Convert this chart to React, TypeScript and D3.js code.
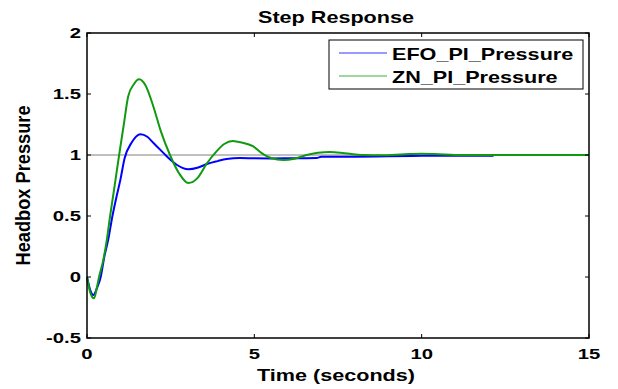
import { useRef, useEffect } from "react";
import * as d3 from "d3";

const efoTime = [0, 0.1, 0.19, 0.3, 0.41, 0.52, 0.63, 0.76, 0.9, 1.0, 1.12, 1.33, 1.6, 1.8, 1.98, 2.2, 2.38, 2.68, 2.85, 3.03, 3.3, 3.58, 3.9, 4.17, 4.57, 5.0, 5.5, 6.0, 6.86, 7.0, 8.0, 9.0, 10.0, 11.0, 12.15];
const efoValue = [0, -0.11, -0.148, -0.09, 0, 0.17, 0.3, 0.5, 0.68, 0.8, 0.97, 1.1, 1.17, 1.15, 1.1, 1.04, 0.99, 0.92, 0.895, 0.883, 0.895, 0.926, 0.95, 0.967, 0.975, 0.973, 0.972, 0.973, 0.975, 0.985, 0.986, 0.99, 0.993, 0.994, 0.994];

const znTime = [0, 0.1, 0.21, 0.3, 0.36, 0.48, 0.59, 0.69, 0.8, 0.96, 1.1, 1.23, 1.4, 1.56, 1.75, 1.98, 2.2, 2.48, 2.75, 3.03, 3.3, 3.58, 3.87, 4.1, 4.35, 4.65, 4.97, 5.2, 5.5, 5.87, 6.2, 6.56, 6.9, 7.26, 7.7, 8.25, 8.8, 9.5, 10.0, 10.5, 11.0, 13.0, 15.0];
const znValue = [0, -0.13, -0.175, -0.08, 0, 0.13, 0.3, 0.5, 0.7, 1.0, 1.25, 1.48, 1.58, 1.62, 1.57, 1.4, 1.2, 1.0, 0.85, 0.77, 0.81, 0.93, 1.03, 1.09, 1.115, 1.1, 1.07, 1.02, 0.975, 0.959, 0.97, 1.0, 1.018, 1.025, 1.015, 1.0, 0.998, 1.006, 1.01, 1.006, 1.0, 1.0, 1.0];

const xTicks = [0, 5, 10, 15];
const yTicks = [-0.5, 0, 0.5, 1, 1.5, 2];
const seriesNames = ["EFO_PI_Pressure", "ZN_PI_Pressure"];
const seriesColors = ["#0000ff", "#109a10"];

const FONT = "'Liberation Sans', Arial, sans-serif";

export default function App() {
  const svgRef = useRef<SVGSVGElement>(null);

  useEffect(() => {
    if (!svgRef.current) return;
    const svg = d3.select(svgRef.current);
    svg.selectAll("*").remove();

    const left = 87, right = 589, top = 33, bottom = 338;
    const x = d3.scaleLinear().domain([0, 15]).range([left, right]);
    const y = d3.scaleLinear().domain([-0.5, 2]).range([bottom, top]);

    svg.append("rect").attr("width", 618).attr("height", 389).attr("fill", "#fff");

    // reference line at 1
    svg.append("line")
      .attr("x1", left).attr("x2", right)
      .attr("y1", y(1)).attr("y2", y(1))
      .attr("stroke", "#808080").attr("stroke-width", 1);

    const line = d3.line<[number, number]>()
      .x((d) => x(d[0]))
      .y((d) => y(d[1]))
      .curve(d3.curveMonotoneX);

    const series = [
      efoTime.map((t, i) => [t, efoValue[i]] as [number, number]),
      znTime.map((t, i) => [t, znValue[i]] as [number, number]),
    ];
    series.forEach((s, i) => {
      svg.append("path")
        .attr("d", line(s)!)
        .attr("fill", "none")
        .attr("stroke", seriesColors[i])
        .attr("stroke-width", 2);
    });

    // ticks (inward, on all sides)
    const tk = svg.append("g").attr("stroke", "#000").attr("stroke-width", 1);
    xTicks.forEach((t) => {
      tk.append("line").attr("x1", x(t)).attr("x2", x(t)).attr("y1", bottom).attr("y2", bottom - 4);
      tk.append("line").attr("x1", x(t)).attr("x2", x(t)).attr("y1", top).attr("y2", top + 4);
    });
    yTicks.forEach((t) => {
      tk.append("line").attr("x1", left).attr("x2", left + 4).attr("y1", y(t)).attr("y2", y(t));
      tk.append("line").attr("x1", right).attr("x2", right - 4).attr("y1", y(t)).attr("y2", y(t));
    });

    svg.append("rect")
      .attr("x", left).attr("y", top)
      .attr("width", right - left).attr("height", bottom - top)
      .attr("fill", "none").attr("stroke", "#000").attr("stroke-width", 1.5);

    const label = (tx: number, ty: number, s: string, anchor: string, size: number, sx: number) =>
      svg.append("text")
        .attr("transform", `translate(${tx},${ty}) scale(${sx},1)`)
        .attr("text-anchor", anchor)
        .attr("font-family", FONT)
        .attr("font-weight", "bold")
        .attr("font-size", size)
        .attr("fill", "#000")
        .text(s);

    xTicks.forEach((t) => label(x(t), 359, String(t), "middle", 14.5, 1.4));
    yTicks.forEach((t) => label(left - 6, y(t) + 5, String(t), "end", 14.5, 1.4));

    label((left + right) / 2 - 2, 23, "Step Response", "middle", 16, 1.35);
    label((left + right) / 2 - 2, 381, "Time (seconds)", "middle", 16, 1.35);

    svg.append("text")
      .attr("transform", `translate(30,${(top + bottom) / 2}) rotate(-90) scale(1.14,1.3)`)
      .attr("text-anchor", "middle")
      .attr("font-family", FONT)
      .attr("font-weight", "bold")
      .attr("font-size", 16)
      .text("Headbox Pressure");

    // legend
    const lg = svg.append("g");
    lg.append("rect")
      .attr("x", 329).attr("y", 40).attr("width", 254).attr("height", 49)
      .attr("fill", "#fff").attr("stroke", "#000").attr("stroke-width", 1);
    seriesNames.forEach((name, i) => {
      const ly = 53 + i * 23;
      lg.append("line")
        .attr("x1", 339).attr("x2", 387).attr("y1", ly).attr("y2", ly)
        .attr("stroke", seriesColors[i]).attr("stroke-width", 1).attr("opacity", 0.8);
      label(392, ly + 6.5, name, "start", 16, 1.35);
    });
  }, []);

  return (
    <svg
      ref={svgRef}
      width={618}
      height={389}
      style={{ position: "absolute", left: 0, top: 0 }}
    />
  );
}
